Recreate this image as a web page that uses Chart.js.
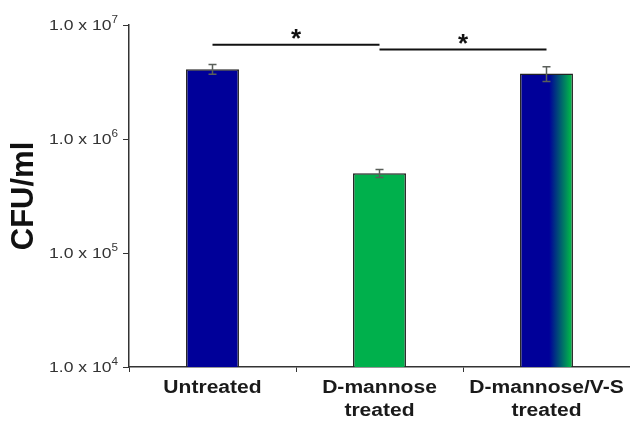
<!DOCTYPE html>
<html lang="en">
<head>
    <meta charset="UTF-8">
    <title>CFU/ml</title>
    <script src="https://cdn.jsdelivr.net/npm/chart.js@4.4.0/dist/chart.umd.min.js"></script>
    <style>
        html, body { margin: 0; padding: 0; background: #fff; }
        #wrap { width: 630px; height: 423px; }
    </style>
</head>
<body>
<div id="wrap"><canvas id="chart"></canvas></div>
<script>
// data
const groups = [['Untreated'], ['D-mannose', 'treated'], ['D-mannose/V-S', 'treated']];
const cfu = [4.1e6, 5.0e5, 3.75e6];
const cfuErr = [0.4e6, 0.4e5, 0.55e6];
const yTicks = [1e4, 1e5, 1e6, 1e7];
const yExp = ['4', '5', '6', '7'];
// significance brackets: [from, to, level]
const sigPairs = [[0, 1, 6.7e6], [1, 2, 6.1e6]];

const BLUE = '#000099';
const GREEN = '#00b04c';
const STRETCH = 1.17;   // the original text is drawn a bit wide

function barFill(ctx) {
    if (ctx.dataIndex === 0) return BLUE;
    if (ctx.dataIndex === 1) return GREEN;
    const chart = ctx.chart;
    const x = chart.scales.x;
    if (!x || !chart.chartArea) return BLUE;
    const cx = x.getPixelForValue(2);
    const w = (x.width / groups.length) * 0.317;
    const g = chart.ctx.createLinearGradient(cx - w / 2, 0, cx + w / 2, 0);
    g.addColorStop(0, BLUE);
    g.addColorStop(0.55, BLUE);
    g.addColorStop(0.95, GREEN);
    g.addColorStop(1, GREEN);
    return g;
}

const extras = {
    id: 'extras',
    afterDatasetsDraw(chart) {
        const c = chart.ctx;
        const x = chart.scales.x, y = chart.scales.y;
        c.save();
        // error bars
        c.strokeStyle = '#5a5f5a';
        c.lineWidth = 1.5;
        cfu.forEach((v, i) => {
            const px = x.getPixelForValue(i);
            const top = y.getPixelForValue(v + cfuErr[i]);
            const bot = y.getPixelForValue(v - cfuErr[i]);
            c.beginPath();
            c.moveTo(px, top); c.lineTo(px, bot);
            c.moveTo(px - 4, top); c.lineTo(px + 4, top);
            c.moveTo(px - 4, bot); c.lineTo(px + 4, bot);
            c.stroke();
        });
        // significance lines with stars
        c.strokeStyle = '#111';
        c.lineWidth = 2;
        c.fillStyle = '#111';
        c.font = 'bold 26px "Liberation Sans", Arial, sans-serif';
        c.textAlign = 'center';
        c.textBaseline = 'middle';
        sigPairs.forEach(([a, b, lvl]) => {
            const x1 = x.getPixelForValue(a), x2 = x.getPixelForValue(b);
            const py = y.getPixelForValue(lvl);
            c.beginPath();
            c.moveTo(x1, py); c.lineTo(x2, py);
            c.stroke();
            c.fillText('*', (x1 + x2) / 2, py - 5);
        });
        c.restore();
    },
    afterDraw(chart) {
        const c = chart.ctx;
        const x = chart.scales.x, y = chart.scales.y;
        c.save();
        c.fillStyle = '#333';
        // y tick labels: 1.0 x 10^n
        yTicks.forEach((v, i) => {
            const py = y.getPixelForValue(v);
            c.save();
            c.translate(118, py + 1);
            c.scale(STRETCH, 1);
            c.font = '10px "Liberation Sans", Arial, sans-serif';
            c.textAlign = 'left';
            c.textBaseline = 'middle';
            const ew = c.measureText(yExp[i]).width;
            c.fillText(yExp[i], -ew, -6);
            c.font = '15px "Liberation Sans", Arial, sans-serif';
            c.textAlign = 'right';
            c.fillText('1.0 x 10', -ew, 0);
            c.restore();
        });
        // category labels
        c.fillStyle = '#1a1a1a';
        groups.forEach((lines, i) => {
            const px = x.getPixelForValue(i);
            lines.forEach((t, k) => {
                c.save();
                c.translate(px, 388 + k * 23);
                c.scale(STRETCH, 1);
                c.font = 'bold 18px "Liberation Sans", Arial, sans-serif';
                c.textAlign = 'center';
                c.textBaseline = 'middle';
                c.fillText(t, 0, 0);
                c.restore();
            });
        });
        c.restore();
    }
};

new Chart(document.getElementById('chart'), {
    type: 'bar',
    data: {
        labels: groups,
        datasets: [{
            data: cfu,
            backgroundColor: barFill,
            borderColor: '#222',
            borderWidth: 1.5,
            categoryPercentage: 1,
            barPercentage: 0.317
        }]
    },
    options: {
        responsive: true,
        maintainAspectRatio: false,
        animation: false,
        layout: { padding: { top: 25, right: 0, left: 0, bottom: 0 } },
        plugins: { legend: { display: false }, tooltip: { enabled: false } },
        scales: {
            x: {
                ticks: { display: false },
                grid: { offset: true, drawOnChartArea: false, drawTicks: true, tickLength: 5, color: '#333' },
                border: { color: '#333', width: 1.5 },
                afterFit(s) { s.height = 56; }
            },
            y: {
                type: 'logarithmic',
                min: 1e4,
                max: 1e7,
                afterBuildTicks(s) { s.ticks = yTicks.map(v => ({ value: v })); },
                ticks: { display: false },
                grid: { drawOnChartArea: false, drawTicks: true, tickLength: 6, color: '#333' },
                border: { color: '#333', width: 1.5 },
                title: {
                    display: true,
                    text: 'CFU/ml',
                    color: '#111',
                    font: { family: '"Liberation Sans", Arial, sans-serif', size: 31, weight: 'bold' },
                    padding: { top: 6, bottom: 0 }
                },
                afterFit(s) { s.width = 129; }
            }
        }
    },
    plugins: [extras]
});
</script>
</body>
</html>
